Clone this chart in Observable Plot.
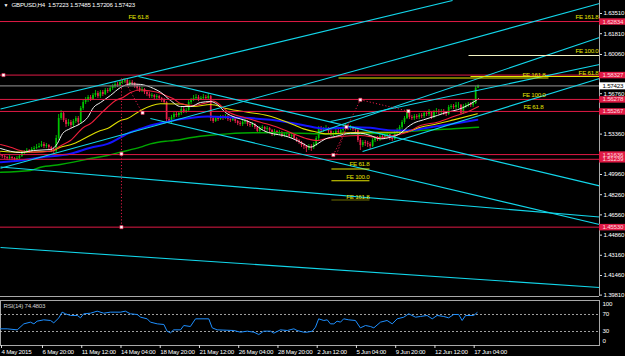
<!DOCTYPE html>
<html><head><meta charset="utf-8">
<script src="https://cdn.jsdelivr.net/npm/d3@7"></script>
<script src="https://cdn.jsdelivr.net/npm/@observablehq/plot@0.6"></script>
<style>
html,body{margin:0;padding:0;background:#000;}
#wrap{position:relative;width:625px;height:356px;background:#000;overflow:hidden;}
#main{position:absolute;left:0;top:0;}
#rsi{position:absolute;left:0;top:297px;}
svg{overflow:visible;}
svg text{letter-spacing:-0.25px;}
</style></head><body><div id="wrap"><div id="main"></div><div id="rsi"></div></div>
<script>
// ---------- DATA ----------
const title = "GBPUSD,H4  1.57223 1.57485 1.57206 1.57423";
const rsiTitle = "RSI(14) 74.4803";
const opens = [1.5164,1.5156,1.5147,1.5139,1.5131,1.5139,1.5131,1.5122,1.5131,
1.5147,1.5173,1.5181,1.5198,1.5190,1.5206,1.5215,
1.5223,1.5232,1.5248,1.5232,1.5240,1.5223,
1.5198,1.5190,
1.5299,1.5467,1.5509,
1.5451,1.5417,1.5434,1.5408,1.5442,1.5467,
1.5434,1.5551,1.5602,
1.5619,1.5644,1.5627,1.5661,1.5678,1.5652,
1.5686,1.5669,1.5703,1.5695,1.5720,
1.5737,1.5754,1.5745,1.5770,1.5779,1.5787,
1.5754,1.5770,1.5762,1.5737,
1.5720,1.5703,1.5711,1.5686,
1.5669,1.5652,1.5661,1.5644,1.5652,1.5636,1.5619,
1.5602,1.5459,1.5442,
1.5476,1.5501,1.5493,1.5509,
1.5543,1.5526,1.5535,
1.5602,1.5619,1.5636,1.5644,1.5627,1.5636,1.5644,
1.5636,1.5652,
1.5467,
1.5442,1.5467,1.5459,1.5476,1.5467,1.5484,1.5459,1.5451,
1.5467,1.5442,1.5425,1.5417,
1.5434,1.5442,1.5417,1.5408,1.5417,1.5392,
1.5358,
1.5383,1.5392,1.5375,1.5383,1.5366,
1.5333,
1.5358,1.5341,1.5349,1.5324,1.5333,
1.5335,1.5316,1.5324,
1.5299,1.5282,1.5265,1.5240,
1.5232,1.5215,1.5232,1.5223,
1.5248,1.5299,1.5383,
1.5366,1.5375,1.5383,1.5358,1.5333,1.5341,
1.5358,1.5349,1.5366,1.5392,1.5400,
1.5383,1.5392,1.5375,1.5366,
1.5282,1.5240,
1.5265,1.5257,1.5248,1.5232,
1.5282,1.5299,1.5291,1.5316,
1.5307,1.5324,1.5333,
1.5299,1.5291,
1.5341,1.5366,1.5392,1.5434,1.5467,1.5518,
1.5476,1.5467,1.5484,
1.5476,1.5493,1.5484,
1.5509,1.5501,1.5518,
1.5476,
1.5518,1.5526,1.5518,
1.5526,1.5509,1.5501,
1.5560,1.5568,1.5560,1.5577,1.5579,
1.5509,1.5568,
1.5577,1.5585,1.5577,1.5594,1.57223];
const highs = [1.5181,1.5164,1.5156,1.5147,1.5156,1.5147,1.5139,1.5147,
1.5164,1.5190,1.5198,1.5215,1.5206,1.5223,1.5232,
1.5248,1.5257,1.5274,1.5265,1.5257,1.5248,
1.5232,1.5215,
1.5324,1.5501,1.5535,
1.5526,1.5467,1.5459,1.5451,1.5459,1.5484,
1.5484,1.5568,1.5619,
1.5644,1.5661,1.5661,1.5678,1.5703,1.5695,
1.5703,1.5703,1.5720,1.5720,1.5737,
1.5754,1.5770,1.5770,1.5787,1.5796,1.5804,
1.5796,1.5787,1.5787,1.5770,
1.5754,1.5737,1.5728,1.5720,
1.5703,1.5686,1.5678,1.5669,1.5669,1.5661,1.5644,
1.5636,1.5610,1.5476,
1.5493,1.5518,1.5518,1.5526,
1.5560,1.5560,1.5551,
1.5619,1.5636,1.5661,1.5669,1.5661,1.5652,1.5669,
1.5661,1.5678,
1.5661,
1.5484,1.5484,1.5484,1.5493,1.5493,1.5501,1.5493,1.5476,
1.5484,1.5476,1.5451,1.5442,
1.5451,1.5459,1.5451,1.5434,1.5434,1.5425,
1.5400,
1.5400,1.5408,1.5400,1.5400,1.5392,
1.5375,
1.5375,1.5366,1.5366,1.5358,1.5349,
1.5349,1.5349,1.5341,
1.5333,1.5307,1.5291,1.5274,
1.5257,1.5240,1.5248,1.5248,
1.5265,1.5316,1.5400,
1.5400,1.5392,1.5408,1.5392,1.5375,1.5358,
1.5375,1.5375,1.5383,1.5408,1.5425,
1.5417,1.5408,1.5400,1.5392,
1.5375,1.5299,
1.5282,1.5282,1.5274,1.5265,
1.5299,1.5316,1.5316,1.5333,
1.5333,1.5341,1.5349,
1.5341,1.5316,
1.5358,1.5383,1.5408,1.5451,1.5484,1.5543,
1.5526,1.5493,1.5501,
1.5501,1.5509,1.5509,
1.5526,1.5526,1.5543,
1.5526,
1.5535,1.5551,1.5543,
1.5543,1.5543,1.5526,
1.5577,1.5585,1.5585,1.5602,1.5602,
1.5585,1.5585,
1.5594,1.5602,1.5602,1.5619,
1.5737,1.57485];
const lows = [1.5139,1.5131,1.5122,1.5114,1.5114,1.5114,1.5105,1.5114,
1.5122,1.5139,1.5156,1.5173,1.5173,1.5181,1.5198,
1.5206,1.5215,1.5223,1.5215,1.5215,1.5206,
1.5181,1.5173,
1.5173,1.5282,1.5451,
1.5434,1.5392,1.5400,1.5383,1.5392,1.5425,
1.5408,1.5417,1.5535,
1.5585,1.5602,1.5610,1.5619,1.5644,1.5636,
1.5636,1.5652,1.5661,1.5678,1.5686,
1.5703,1.5720,1.5728,1.5737,1.5754,1.5762,
1.5737,1.5737,1.5745,1.5720,
1.5703,1.5686,1.5686,1.5669,
1.5652,1.5636,1.5636,1.5627,1.5627,1.5619,1.5602,
1.5585,1.5442,1.5425,
1.5425,1.5459,1.5476,1.5476,
1.5493,1.5509,1.5509,
1.5526,1.5585,1.5610,1.5619,1.5610,1.5619,1.5627,
1.5619,1.5627,
1.5442,
1.5425,1.5434,1.5442,1.5451,1.5451,1.5459,1.5442,1.5434,
1.5442,1.5425,1.5408,1.5400,
1.5400,1.5417,1.5400,1.5392,1.5392,1.5375,
1.5341,
1.5349,1.5366,1.5358,1.5358,1.5349,
1.5316,
1.5316,1.5324,1.5324,1.5307,1.5307,
1.5307,1.5299,1.5299,
1.5282,1.5265,1.5248,1.5223,
1.5206,1.5181,1.5198,1.5190,
1.5206,1.5232,1.5282,
1.5349,1.5349,1.5358,1.5333,1.5316,1.5316,
1.5324,1.5333,1.5333,1.5349,1.5375,
1.5366,1.5366,1.5358,1.5349,
1.5265,1.5198,
1.5223,1.5232,1.5223,1.5206,
1.5223,1.5265,1.5274,1.5274,
1.5291,1.5291,1.5307,
1.5282,1.5274,
1.5282,1.5324,1.5349,1.5375,1.5417,1.5459,
1.5459,1.5451,1.5451,
1.5459,1.5459,1.5467,
1.5467,1.5484,1.5484,
1.5459,
1.5467,1.5501,1.5501,
1.5501,1.5493,1.5484,
1.5493,1.5543,1.5543,1.5543,1.5551,
1.5493,1.5501,
1.5551,1.5560,1.5560,1.5560,
1.5585,1.57206];
const closes = [1.5156,1.5147,1.5139,1.5131,1.5139,1.5131,1.5122,1.5131,
1.5147,1.5173,1.5181,1.5198,1.5190,1.5206,1.5215,
1.5223,1.5232,1.5248,1.5232,1.5240,1.5223,
1.5198,1.5190,
1.5299,1.5467,1.5509,
1.5451,1.5417,1.5434,1.5408,1.5442,1.5467,
1.5434,1.5551,1.5602,
1.5619,1.5644,1.5627,1.5661,1.5678,1.5652,
1.5686,1.5669,1.5703,1.5695,1.5720,
1.5737,1.5754,1.5745,1.5770,1.5779,1.5787,
1.5754,1.5770,1.5762,1.5737,
1.5720,1.5703,1.5711,1.5686,
1.5669,1.5652,1.5661,1.5644,1.5652,1.5636,1.5619,
1.5602,1.5459,1.5442,
1.5476,1.5501,1.5493,1.5509,
1.5543,1.5526,1.5535,
1.5602,1.5619,1.5636,1.5644,1.5627,1.5636,1.5644,
1.5636,1.5652,
1.5467,
1.5442,1.5467,1.5459,1.5476,1.5467,1.5484,1.5459,1.5451,
1.5467,1.5442,1.5425,1.5417,
1.5434,1.5442,1.5417,1.5408,1.5417,1.5392,
1.5358,
1.5383,1.5392,1.5375,1.5383,1.5366,
1.5333,
1.5358,1.5341,1.5349,1.5324,1.5333,
1.5335,1.5316,1.5324,
1.5299,1.5282,1.5265,1.5240,
1.5232,1.5215,1.5232,1.5223,
1.5248,1.5299,1.5383,
1.5366,1.5375,1.5383,1.5358,1.5333,1.5341,
1.5358,1.5349,1.5366,1.5392,1.5400,
1.5383,1.5392,1.5375,1.5366,
1.5282,1.5240,
1.5265,1.5257,1.5248,1.5232,
1.5282,1.5299,1.5291,1.5316,
1.5307,1.5324,1.5333,
1.5299,1.5291,
1.5341,1.5366,1.5392,1.5434,1.5467,1.5518,
1.5476,1.5467,1.5484,
1.5476,1.5493,1.5484,
1.5509,1.5501,1.5518,
1.5476,
1.5518,1.5526,1.5518,
1.5526,1.5509,1.5501,
1.5560,1.5568,1.5560,1.5577,1.5579,
1.5509,1.5568,
1.5577,1.5585,1.5577,1.5594,
1.5722,1.57423];

// moving averages: [bar, price]
const maWhite = [[0.3,1.5215],[8.4,1.5181],[13.7,1.5198],[20.7,1.5206],[23.5,1.5257],[25.6,1.5341],[28.8,1.5383],[32.9,1.5425],[35.8,1.5476],[38.2,1.5560],[41.1,1.5602],[45.1,1.5661],[49.2,1.5728],[53.3,1.5758],[57.4,1.5754],[62.7,1.5720],[65.5,1.5689],[69.6,1.5619],[73.7,1.5568],[77.8,1.5568],[81.8,1.5602],[85.9,1.5610],[88.7,1.5585],[92,1.5518],[96.1,1.5476],[100.2,1.5451],[103.4,1.5423],[107.5,1.5366],[111.6,1.5338],[115.7,1.5324],[119.7,1.5296],[123.8,1.5254],[126.7,1.5226],[129.5,1.5254],[132.8,1.5296],[136.9,1.5316],[143,1.5343],[147.1,1.5343],[151.1,1.5324],[155.2,1.5296],[159.3,1.5310],[163.4,1.5343],[166.2,1.5394],[168.7,1.5428],[172.7,1.5456],[178.4,1.5493],[182.5,1.5521],[186.6,1.5541],[190.7,1.5577],[195.2,1.5633]];
const maRed = [[0.3,1.5248],[4.4,1.5226],[8.4,1.5198],[13.7,1.5184],[20.7,1.5192],[24.7,1.5236],[28.8,1.5282],[34.1,1.5392],[37,1.5425],[41.1,1.5507],[43.9,1.5562],[47.2,1.5619],[50.4,1.5647],[53.3,1.5686],[57.4,1.5707],[61.4,1.5699],[64.3,1.5689],[67.6,1.5661],[70.8,1.5633],[73.7,1.5594],[79,1.5577],[84.7,1.5602],[87.1,1.5615],[90,1.5577],[92.8,1.5526],[99.4,1.5478],[106.3,1.5436],[113.2,1.5394],[119.7,1.5338],[125.4,1.5296],[129.5,1.5282],[132.8,1.5296],[138.9,1.5316],[147.1,1.5324],[155.2,1.5305],[160.5,1.5324],[166.2,1.5352],[171.5,1.5408],[178.4,1.5436],[185,1.5484],[191.9,1.5535],[195.2,1.5568]];
const maYellow = [[0.3,1.5192],[8.4,1.5184],[20.7,1.5192],[24.7,1.5226],[30,1.5254],[32.9,1.5282],[41.1,1.5366],[43.9,1.5383],[49.2,1.5451],[52.1,1.5467],[57.4,1.5535],[65.5,1.5591],[73.7,1.5589],[79,1.5568],[85.9,1.5585],[92.8,1.5549],[101,1.5520],[109.1,1.5493],[117.3,1.5436],[123.8,1.5380],[129.5,1.5352],[132.8,1.5338],[138.9,1.5343],[147.1,1.5352],[158.1,1.5352],[164.6,1.5352],[171.5,1.5394],[178.4,1.5423],[185,1.5456],[194.7,1.5507]];
const maBlue = [[0.3,1.5100],[8.4,1.5114],[16.6,1.5139],[28.8,1.5170],[37,1.5221],[43.9,1.5254],[53.3,1.5352],[57.4,1.5381],[61.4,1.5408],[67.6,1.5436],[70.8,1.5451],[77.8,1.5471],[84.7,1.5484],[90,1.5480],[99.4,1.5473],[110.4,1.5456],[119.7,1.5428],[127.9,1.5394],[132.8,1.5381],[144.2,1.5394],[151.1,1.5389],[160.5,1.5366],[166.2,1.5366],[175.6,1.5394],[185,1.5423],[194.7,1.5456]];
const maGreen = [[0.3,1.5015],[12.5,1.5030],[16.6,1.5057],[24.7,1.5080],[30,1.5100],[37,1.5131],[43.9,1.5156],[49.2,1.5184],[57.4,1.5226],[61.4,1.5254],[67.6,1.5276],[70.8,1.5282],[79,1.5310],[84.7,1.5324],[92.8,1.5338],[103.4,1.5347],[113.2,1.5347],[122.6,1.5343],[132.8,1.5338],[158.1,1.5343],[171.5,1.5366],[185,1.5381],[195.2,1.5394]];

// RSI(14): [bar, value]
const rsiPts = [[0.3,36.3],[3,36.3],[7.1,33.9],[9.8,48],[12.5,52],[13.9,48],[15.2,54.3],[17.9,57.4],[20.7,55.9],[22,50.4],[24.1,62.2],[25.4,75.5],[26.8,71.6],[28.8,67.7],[31.6,67.7],[32.9,62.2],[34.2,71.6],[37,73.1],[39.7,77.8],[42.4,73.1],[45.1,75.5],[49.2,75.5],[51.2,77.8],[53.3,71.6],[56,70],[57.4,63.7],[60.1,59.8],[61.4,52],[64.2,48],[66.9,46.5],[68.2,30.8],[69.6,26.9],[70.9,33.9],[73.7,33.9],[75,44.1],[77.7,41.8],[79.8,59.8],[85.2,59.8],[86.6,38.6],[88.6,33.9],[95.4,32.4],[98.1,28.4],[100.9,30.8],[103.6,28.4],[105.6,22.9],[107.6,30.8],[110.4,30.8],[111.7,26.1],[114.4,33.9],[117.2,32.4],[119.9,36.3],[121.2,32.4],[123.9,28.4],[125.3,28.4],[127.4,30.8],[128.7,40.2],[130,59.8],[132.1,55.9],[133.5,57.4],[134.8,48],[136.2,48],[137.5,54.3],[138.9,52],[140.2,59.8],[142.3,57.4],[145,55.9],[147,38.6],[149.1,44.1],[151.1,41.8],[152.5,38.6],[155.2,52],[157.9,55.9],[160,48],[162,59.8],[164.7,63.7],[166.7,71.6],[169.5,63.7],[171.5,65.3],[174.2,67.7],[176.3,59.8],[178.3,67.7],[181,65.3],[183,62.2],[185.1,70],[187.1,70],[188.5,55.9],[189.9,67.7],[193.2,67.7],[194.6,74.5]];

// horizontal levels
const redLevels = [1.62834, 1.58327, 1.56278, 1.55267, 1.51636, 1.51239, 1.45530];
const bidPrice = 1.57423;
const priceTicks = [1.63510, 1.61810, 1.60060, 1.56760, 1.53360, 1.49960, 1.48260, 1.46560, 1.44860, 1.43160, 1.41460, 1.39810];

// trend / channel lines [bar1, price1, bar2, price2]
const cyanLines = [
  [0.285,1.55473,184.6,1.64604],
  [0.285,1.50490,244.5,1.64352],
  [129.9,1.53495,244.5,1.61490],
  [134.8,1.54421,244.5,1.59218],
  [147.9,1.51896,244.5,1.58040],
  [56.5,1.58208,244.5,1.49002],
  [61.4,1.54673,244.5,1.45752],
  [0.285,1.50591,244.5,1.46384],
  [0.285,1.43817,244.5,1.40451]
];
// Fibonacci expansion level segments [bar1, bar2, price, colour]
const feSegments = [
  [135.2,150.7,1.50423,"#e6e600"],
  [135.2,150.7,1.49430,"#e6e600"],
  [135.2,150.7,1.47814,"#6e6e00"],
  [138.1,223.7,1.58082,"#e6e600"],
  [191.9,244.5,1.58208,"#e6e600"],
  [191.1,244.5,1.59975,"#f4f4c4"]
];
// FE labels [bar, price, text, anchor]
const feLabels = [
  [52.5,1.63173,"FE 61.8","start"],
  [244.1,1.63173,"FE 161.8","end"],
  [244.1,1.60312,"FE 100.0","end"],
  [244.1,1.58460,"FE 61.8","end"],
  [222.5,1.58292,"FE 161.8","end"],
  [222.5,1.56609,"FE 100.0","end"],
  [221.6,1.55599,"FE 61.8","end"],
  [150.7,1.50802,"FE 61.8","end"],
  [150.7,1.49708,"FE 100.0","end"],
  [150.7,1.48067,"FE 161.8","end"]
];
// dotted FE trend segments [bar1, price1, bar2, price2]
const feTrends = [
  [50.4,1.58040,58.0,1.55178],
  [49.6,1.58040,49.6,1.45530],
  [136.0,1.51601,147.0,1.56247],
  [137.3,1.51643,141.3,1.53958],
  [147.0,1.56247,166.6,1.55288]
];
const anchorPts = [[49.6,1.51702],[58.2,1.55153],[49.6,1.45530],[136.0,1.51601],[147.0,1.56247],[141.3,1.53958],[166.6,1.55288],[1.5,1.58327]];

const timeTicks = [0.285,17,33,49,65,81,97,113,129,145,161,177,193];
const timeLabels = ["4 May 2015","6 May 20:00","11 May 12:00","14 May 04:00","18 May 20:00","21 May 12:00","26 May 04:00","28 May 20:00","2 Jun 12:00","5 Jun 04:00","9 Jun 20:00","12 Jun 12:00","17 Jun 04:00"];
const rsiLevels = [70, 30];
const rsiTicks = [100, 70, 30, 0];

// ---------- CHART ----------
const FONT = '"Liberation Sans",Arial,sans-serif';
const FS = "6.2px";
const xMin = 0.285, xMax = 244.5;
const pxPerBar = 599 / (xMax - xMin);
const boxEnd = xMax + 26 / pxPerBar;
const UP = "#00c400", DOWN = "#e8204b", CRIMSON = "#e01a45", CYAN = "#12d6ea";
const candles = closes.map((c, i) => ({i, o: opens[i], h: highs[i], l: lows[i], c}));
const candleColor = d => d.c >= d.o ? UP : DOWN;
const fmt5 = d3.format(".5f");
const ma = (arr, stroke, w) => Plot.line(arr, {x: d => d[0], y: d => d[1], stroke, strokeWidth: w, curve: "monotone-x"});

const main = Plot.plot({
  width: 625, height: 297,
  marginLeft: 0, marginRight: 26, marginTop: 0, marginBottom: 1,
  style: {background: "transparent", color: "#fff", fontFamily: FONT, fontSize: FS, overflow: "visible"},
  x: {domain: [xMin, xMax], axis: null},
  y: {domain: [1.39693, 1.64604], axis: null},
  marks: [
    Plot.ruleX(candles, {x: "i", y1: "l", y2: "h", stroke: candleColor, strokeWidth: 0.9}),
    Plot.ruleX(candles, {x: "i", y1: "o", y2: "c", stroke: candleColor, strokeWidth: 1.7}),
    ma(maGreen, "#00a800", 1.4),
    ma(maBlue, "#1414ff", 2),
    ma(maYellow, "#e0e000", 1.1),
    ma(maRed, "#f0203c", 1.1),
    ma(maWhite, "#f2f2f2", 1),
    Plot.ruleY([bidPrice], {stroke: "#7a7a7a", strokeWidth: 1.2}),
    Plot.ruleY(redLevels, {stroke: CRIMSON, strokeWidth: 1}),
    Plot.link(cyanLines, {x1: d => d[0], y1: d => d[1], x2: d => d[2], y2: d => d[3], stroke: CYAN, strokeWidth: 1.1}),
    Plot.link(feSegments, {x1: d => d[0], x2: d => d[1], y1: d => d[2], y2: d => d[2], stroke: d => d[3], strokeWidth: 1.1}),
    Plot.link(feTrends, {x1: d => d[0], y1: d => d[1], x2: d => d[2], y2: d => d[3], stroke: CRIMSON, strokeWidth: 1, strokeDasharray: "1.2,2"}),
    Plot.dot(anchorPts, {x: d => d[0], y: d => d[1], symbol: "square", r: 1.8, fill: "#fff", stroke: CRIMSON, strokeWidth: 0.6}),
    Plot.text(feLabels.filter(d => d[3] === "start"), {x: d => d[0], y: d => d[1], text: d => d[2], textAnchor: "start", fill: "#e6e600"}),
    Plot.text(feLabels.filter(d => d[3] === "end"), {x: d => d[0], y: d => d[1], text: d => d[2], textAnchor: "end", fill: "#e6e600"}),
    Plot.ruleX([xMax], {stroke: "#a8a8a8"}),
    Plot.ruleY([1.39693], {stroke: "#a8a8a8"}),
    Plot.axisY(priceTicks, {anchor: "right", tickFormat: fmt5, tickSize: 2, tickPadding: 2, fill: "#fff", stroke: "#ddd"}),
    Plot.ruleY(redLevels, {x1: xMax, x2: boxEnd, stroke: CRIMSON, strokeWidth: 6.5}),
    Plot.text(redLevels, {x: xMax, y: d => d, text: d => fmt5(d), dx: 3, textAnchor: "start", fill: "#ffd8de"}),
    Plot.ruleY([bidPrice], {x1: xMax, x2: boxEnd, stroke: "#fff", strokeWidth: 7}),
    Plot.text([bidPrice], {x: xMax, y: d => d, text: d => fmt5(d), dx: 3, textAnchor: "start", fill: "#000"}),
    Plot.text(["\u25BC"], {frameAnchor: "top-left", dx: 3, dy: 3, lineAnchor: "top", fontSize: 5, fill: "#fff"}),
    Plot.text([title], {frameAnchor: "top-left", dx: 11, dy: 2.5, lineAnchor: "top", textAnchor: "start", fill: "#fff"})
  ]
});
document.getElementById("main").appendChild(main);

const rsiChart = Plot.plot({
  width: 625, height: 59,
  marginLeft: 0, marginRight: 26, marginTop: 3, marginBottom: 11,
  style: {background: "transparent", color: "#fff", fontFamily: FONT, fontSize: FS, overflow: "visible"},
  x: {domain: [xMin, xMax], axis: null},
  y: {domain: [-2.9, 102.9], axis: null},
  marks: [
    Plot.frame({stroke: "#a8a8a8"}),
    Plot.ruleY(rsiLevels, {stroke: "#c8c8c8", strokeDasharray: "2,2", strokeWidth: 0.8}),
    Plot.line(rsiPts, {x: d => d[0], y: d => d[1], stroke: "#1e8fff", strokeWidth: 1}),
    Plot.text(rsiTicks.filter(v => v === 70 || v === 30), {x: xMax, y: d => d, text: d => String(d), dx: 3, textAnchor: "start", fill: "#fff"}),
    Plot.text(rsiTicks.filter(v => v === 100), {x: xMax, y: d => d, text: d => String(d), dx: 3, dy: 2, textAnchor: "start", fill: "#fff"}),
    Plot.text(rsiTicks.filter(v => v === 0), {x: xMax, y: d => d, text: d => String(d), dx: 3, dy: -3, textAnchor: "start", fill: "#fff"}),
    Plot.text([rsiTitle], {frameAnchor: "top-left", dx: 3, dy: 3, lineAnchor: "top", textAnchor: "start", fill: "#d0d0d0"}),
    Plot.axisX(timeTicks, {anchor: "bottom", tickFormat: (d) => timeLabels[timeTicks.indexOf(d)], tickSize: 3, tickPadding: 1, textAnchor: "start", dx: 1, fill: "#fff", stroke: "#ddd"})
  ]
});
document.getElementById("rsi").appendChild(rsiChart);
</script></body></html>
